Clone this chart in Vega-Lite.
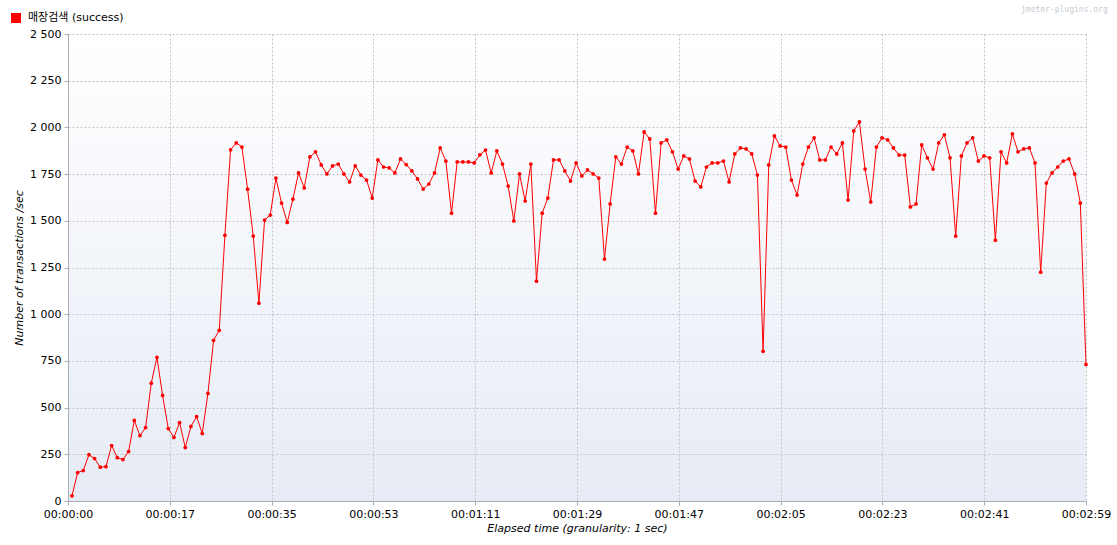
{
  "$schema": "https://vega.github.io/schema/vega-lite/v6.json",
  "width": 1018,
  "height": 467,
  "autosize": {"type": "none"},
  "padding": {"left": 68, "top": 34, "right": 31, "bottom": 44},
  "background": "#ffffff",
  "config": {
    "font": "DejaVu Sans, Noto Sans CJK KR",
    "view": {
      "stroke": null,
      "fill": {"gradient": "linear", "x1": 0, "y1": 0, "x2": 0, "y2": 1, "stops": [{"offset": 0, "color": "#ffffff"}, {"offset": 1, "color": "#e6ebf5"}]}
    },
    "axis": {
      "grid": true,
      "gridColor": "#c4c4c4",
      "gridDash": [2, 2],
      "gridWidth": 1,
      "domainColor": "#a9adb5",
      "tickColor": "#a9adb5",
      "tickSize": 4,
      "labelFontSize": 11,
      "labelColor": "#000000",
      "labelFlush": false,
      "labelPadding": 3,
      "titleFontSize": 11,
      "titleFontStyle": "italic",
      "titleFontWeight": "normal",
      "titleColor": "#000000"
    }
  },
  "title": {
    "text": "jmeter-plugins.org",
    "anchor": "end",
    "orient": "top",
    "dx": -3,
    "offset": -8,
    "baseline": "alphabetic",
    "font": "DejaVu Sans Mono",
    "fontSize": 8,
    "fontWeight": "normal",
    "color": "#c5cad3"
  },
  "data": {
    "values": [
      {"t": 0, "v": 28}, {"t": 1, "v": 152}, {"t": 2, "v": 163}, {"t": 3, "v": 248}, {"t": 4, "v": 227},
      {"t": 5, "v": 181}, {"t": 6, "v": 184}, {"t": 7, "v": 297}, {"t": 8, "v": 232}, {"t": 9, "v": 222},
      {"t": 10, "v": 265}, {"t": 11, "v": 431}, {"t": 12, "v": 350}, {"t": 13, "v": 393}, {"t": 14, "v": 631},
      {"t": 15, "v": 769}, {"t": 16, "v": 565}, {"t": 17, "v": 388}, {"t": 18, "v": 340}, {"t": 19, "v": 420},
      {"t": 20, "v": 286}, {"t": 21, "v": 399}, {"t": 22, "v": 452}, {"t": 23, "v": 361}, {"t": 24, "v": 576},
      {"t": 25, "v": 860}, {"t": 26, "v": 914}, {"t": 27, "v": 1422}, {"t": 28, "v": 1880}, {"t": 29, "v": 1917},
      {"t": 30, "v": 1895}, {"t": 31, "v": 1669}, {"t": 32, "v": 1418}, {"t": 33, "v": 1059}, {"t": 34, "v": 1504},
      {"t": 35, "v": 1531}, {"t": 36, "v": 1729}, {"t": 37, "v": 1595}, {"t": 38, "v": 1491}, {"t": 39, "v": 1616},
      {"t": 40, "v": 1756}, {"t": 41, "v": 1676}, {"t": 42, "v": 1842}, {"t": 43, "v": 1869}, {"t": 44, "v": 1799},
      {"t": 45, "v": 1751}, {"t": 46, "v": 1794}, {"t": 47, "v": 1804}, {"t": 48, "v": 1751}, {"t": 49, "v": 1708},
      {"t": 50, "v": 1794}, {"t": 51, "v": 1745}, {"t": 52, "v": 1718}, {"t": 53, "v": 1622}, {"t": 54, "v": 1826},
      {"t": 55, "v": 1788}, {"t": 56, "v": 1783}, {"t": 57, "v": 1756}, {"t": 58, "v": 1831}, {"t": 59, "v": 1801},
      {"t": 60, "v": 1767}, {"t": 61, "v": 1724}, {"t": 62, "v": 1670}, {"t": 63, "v": 1697}, {"t": 64, "v": 1756},
      {"t": 65, "v": 1890}, {"t": 66, "v": 1820}, {"t": 67, "v": 1541}, {"t": 68, "v": 1815}, {"t": 69, "v": 1815},
      {"t": 70, "v": 1815}, {"t": 71, "v": 1810}, {"t": 72, "v": 1853}, {"t": 73, "v": 1879}, {"t": 74, "v": 1756},
      {"t": 75, "v": 1874}, {"t": 76, "v": 1804}, {"t": 77, "v": 1686}, {"t": 78, "v": 1499}, {"t": 79, "v": 1751},
      {"t": 80, "v": 1606}, {"t": 81, "v": 1804}, {"t": 82, "v": 1177}, {"t": 83, "v": 1541}, {"t": 84, "v": 1622},
      {"t": 85, "v": 1826}, {"t": 86, "v": 1826}, {"t": 87, "v": 1767}, {"t": 88, "v": 1713}, {"t": 89, "v": 1810},
      {"t": 90, "v": 1740}, {"t": 91, "v": 1772}, {"t": 92, "v": 1751}, {"t": 93, "v": 1729}, {"t": 94, "v": 1295},
      {"t": 95, "v": 1590}, {"t": 96, "v": 1842}, {"t": 97, "v": 1804}, {"t": 98, "v": 1895}, {"t": 99, "v": 1874},
      {"t": 100, "v": 1751}, {"t": 101, "v": 1976}, {"t": 102, "v": 1938}, {"t": 103, "v": 1541}, {"t": 104, "v": 1917},
      {"t": 105, "v": 1933}, {"t": 106, "v": 1869}, {"t": 107, "v": 1777}, {"t": 108, "v": 1847}, {"t": 109, "v": 1831},
      {"t": 110, "v": 1713}, {"t": 111, "v": 1681}, {"t": 112, "v": 1788}, {"t": 113, "v": 1810}, {"t": 114, "v": 1810},
      {"t": 115, "v": 1820}, {"t": 116, "v": 1708}, {"t": 117, "v": 1858}, {"t": 118, "v": 1890}, {"t": 119, "v": 1885},
      {"t": 120, "v": 1858}, {"t": 121, "v": 1745}, {"t": 122, "v": 801}, {"t": 123, "v": 1799}, {"t": 124, "v": 1954},
      {"t": 125, "v": 1901}, {"t": 126, "v": 1895}, {"t": 127, "v": 1718}, {"t": 128, "v": 1638}, {"t": 129, "v": 1804},
      {"t": 130, "v": 1895}, {"t": 131, "v": 1944}, {"t": 132, "v": 1826}, {"t": 133, "v": 1826}, {"t": 134, "v": 1895},
      {"t": 135, "v": 1858}, {"t": 136, "v": 1917}, {"t": 137, "v": 1611}, {"t": 138, "v": 1981}, {"t": 139, "v": 2029},
      {"t": 140, "v": 1777}, {"t": 141, "v": 1601}, {"t": 142, "v": 1895}, {"t": 143, "v": 1944}, {"t": 144, "v": 1933},
      {"t": 145, "v": 1890}, {"t": 146, "v": 1852}, {"t": 147, "v": 1852}, {"t": 148, "v": 1574}, {"t": 149, "v": 1590},
      {"t": 150, "v": 1906}, {"t": 151, "v": 1837}, {"t": 152, "v": 1777}, {"t": 153, "v": 1917}, {"t": 154, "v": 1960},
      {"t": 155, "v": 1837}, {"t": 156, "v": 1418}, {"t": 157, "v": 1847}, {"t": 158, "v": 1917}, {"t": 159, "v": 1944},
      {"t": 160, "v": 1820}, {"t": 161, "v": 1847}, {"t": 162, "v": 1837}, {"t": 163, "v": 1396}, {"t": 164, "v": 1869},
      {"t": 165, "v": 1810}, {"t": 166, "v": 1965}, {"t": 167, "v": 1869}, {"t": 168, "v": 1885}, {"t": 169, "v": 1890},
      {"t": 170, "v": 1810}, {"t": 171, "v": 1225}, {"t": 172, "v": 1702}, {"t": 173, "v": 1756}, {"t": 174, "v": 1788},
      {"t": 175, "v": 1820}, {"t": 176, "v": 1831}, {"t": 177, "v": 1751}, {"t": 178, "v": 1595}, {"t": 179, "v": 731}
    ]
  },
  "encoding": {
    "x": {
      "field": "t",
      "type": "quantitative",
      "scale": {"domain": [-0.7, 179], "nice": false, "zero": false},
      "axis": {
        "title": "Elapsed time (granularity: 1 sec)",
        "titlePadding": 3,
        "values": [-0.7, 17.27, 35.24, 53.21, 71.18, 89.15, 107.12, 125.09, 143.06, 161.03, 179],
        "labelExpr": "timeFormat(datetime(2000, 0, 1, 0, 0, max(0, floor(datum.value + 0.01))), '%H:%M:%S')",
        "labelOverlap": false
      }
    },
    "y": {
      "field": "v",
      "type": "quantitative",
      "scale": {"domain": [0, 2500], "nice": false},
      "axis": {
        "title": "Number of transactions /sec",
        "titlePadding": 5,
        "values": [0, 250, 500, 750, 1000, 1250, 1500, 1750, 2000, 2250, 2500],
        "labelExpr": "replace(format(datum.value, ','), ',', ' ')",
        "labelOverlap": false
      }
    }
  },
  "layer": [
    {
      "mark": {"type": "line", "color": "#ff0000", "strokeWidth": 1}
    },
    {
      "mark": {"type": "point", "filled": true, "size": 14, "opacity": 1},
      "encoding": {
        "color": {
          "datum": "매장검색 (success)",
          "scale": {"range": ["#ff0000"]},
          "legend": {
            "orient": "none",
            "legendX": -58,
            "legendY": -22,
            "title": null,
            "padding": 0,
            "symbolType": "square",
            "symbolSize": 100,
            "labelFontSize": 11,
            "labelColor": "#000000",
            "labelOffset": 6,
            "encode": {
              "symbols": {
                "update": {
                  "fill": {"value": "#ff0000"},
                  "stroke": {"value": "#4a4a4a"},
                  "strokeWidth": {"value": 1},
                  "opacity": {"value": 1}
                }
              }
            }
          }
        }
      }
    }
  ]
}
